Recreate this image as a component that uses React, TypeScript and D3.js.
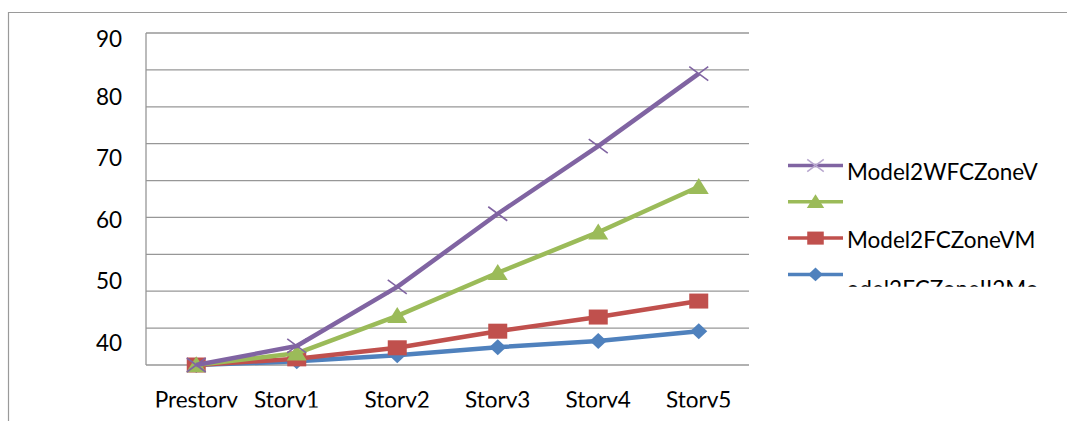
import React from "react";
import * as d3 from "d3";

// Storeys along the horizontal axis
const categories = ["Prestory", "Story1", "Story2", "Story3", "Story4", "Story5"];

// Series values per storey
const seriesBlue = [36, 36.6, 37.6, 38.9, 39.9, 41.5];
const seriesRed = [36, 37.0, 38.8, 41.5, 43.8, 46.4];
const seriesGreen = [36, 37.9, 44.0, 51.0, 57.6, 65.0];
const seriesPurple = [36, 39.1, 48.7, 60.6, 71.6, 83.4];

// Legend labels (top to bottom)
const legendNames = ["Model2WFCZoneV", "", "Model2FCZoneVM", "Model2FCZoneII2Model"];

// Axis ticks
const yTickLabels = [40, 50, 60, 70, 80, 90];
const yGridValues = d3.range(36, 91, 6);

const W = 1067;
const H = 421;
const FONT = "Lato, 'Liberation Sans', sans-serif";
const FS = 22.5;

type Marker = "diamond" | "square" | "triangle" | "cross";

const series: { values: number[]; color: string; legendColor: string; marker: Marker }[] = [
  { values: seriesBlue, color: "#4F81BD", legendColor: "#4F81BD", marker: "diamond" },
  { values: seriesRed, color: "#C0504D", legendColor: "#C0504D", marker: "square" },
  { values: seriesGreen, color: "#9BBB59", legendColor: "#9BBB59", marker: "triangle" },
  { values: seriesPurple, color: "#8064A2", legendColor: "#B9A8CF", marker: "cross" },
];

function markerShape(kind: Marker, cx: number, cy: number, color: string, s = 1, key?: string) {
  if (kind === "square") {
    const w = 19 * s, h = 15 * s;
    return <rect key={key} x={cx - w / 2} y={cy - h / 2} width={w} height={h} fill={color} />;
  }
  if (kind === "diamond") {
    const w = 8.5 * s, h = 8 * s;
    return (
      <path key={key} d={`M${cx},${cy - h}L${cx + w},${cy}L${cx},${cy + h}L${cx - w},${cy}Z`} fill={color} />
    );
  }
  if (kind === "triangle") {
    const w = 10 * s, h = 16 * s;
    return (
      <path key={key} d={`M${cx},${cy - h * 0.55}L${cx + w},${cy + h * 0.45}L${cx - w},${cy + h * 0.45}Z`} fill={color} />
    );
  }
  const w = 9.5 * s, h = 7 * s;
  return (
    <path
      key={key}
      d={`M${cx - w},${cy - h}L${cx + w},${cy + h}M${cx - w},${cy + h}L${cx + w},${cy - h}`}
      stroke={color}
      strokeWidth={1.6}
      fill="none"
    />
  );
}

export default function App() {
  const left = 146, right = 749, top = 33, bottom = 365;
  const x = d3.scaleBand<string>().domain(categories).range([left, right]);
  const y = d3.scaleLinear().domain([36, 90]).range([bottom, top]);
  const cx = (c: string) => (x(c) ?? 0) + x.bandwidth() / 2;

  const line = d3
    .line<number>()
    .x((_, i) => cx(categories[i]))
    .y((v) => y(v));

  const legendX0 = 788, legendX1 = 843, legendTop = 165.5, legendStep = 36.3;
  const legendTextDy = [14, 12, 10, 22.5];
  const legendOrder = [...series].reverse();

  return (
    <svg width={W} height={H} style={{ display: "block", position: "absolute", left: 0, top: 0 }}>
      <defs>
        <clipPath id="xlabClip">
          <rect x={0} y={0} width={W} height={407.5} />
        </clipPath>
        <clipPath id="legClip">
          <rect x={846} y={0} width={193} height={286.7} />
        </clipPath>
      </defs>
      <rect width={W} height={H} fill="#fff" />
      {/* chart frame */}
      <path d={`M8.5,${H}V12.5H${W}`} fill="none" stroke="#9a9a9a" strokeWidth={1.2} />

      {/* gridlines */}
      {yGridValues.map((v) => (
        <line key={v} x1={left} x2={right} y1={y(v)} y2={y(v)} stroke="#979797" strokeWidth={1.3} />
      ))}
      <line x1={left} x2={left} y1={top} y2={bottom} stroke="#979797" strokeWidth={1.3} />

      {/* y tick labels */}
      {yTickLabels.map((v) => (
        <text
          key={v}
          x={122}
          y={Math.max(y(v) + 2, 38)}
          textAnchor="end"
          dominantBaseline="central"
          fontFamily={FONT}
          fontSize={FS}
          fill="#000"
        >
          {v}
        </text>
      ))}

      {/* x tick labels */}
      <g clipPath="url(#xlabClip)">
        {categories.map((c, i) => (
          <text
            key={c}
            x={cx(c) + (i === 1 ? -10 : 0)}
            y={408}
            textAnchor="middle"
            fontFamily={FONT}
            fontSize={FS}
            fill="#000"
          >
            {c}
          </text>
        ))}
      </g>

      {/* series lines and markers */}
      {series.map((s, si) => (
        <g key={si}>
          <path d={line(s.values) ?? ""} fill="none" stroke={s.color} strokeWidth={4.5} strokeLinejoin="round" />
          {s.values.map((v, i) => markerShape(s.marker, cx(categories[i]), y(v), s.color, 1, `${si}-${i}`))}
        </g>
      ))}

      {/* legend */}
      {legendOrder.map((s, i) => {
        const ly = legendTop + i * legendStep;
        return (
          <g key={i}>
            <line x1={legendX0} x2={legendX1} y1={ly} y2={ly} stroke={s.color} strokeWidth={3.5} />
            {markerShape(s.marker, (legendX0 + legendX1) / 2, ly, s.legendColor, 0.87)}
          </g>
        );
      })}
      <g clipPath="url(#legClip)">
        {legendNames.map((name, i) => {
          const ly = legendTop + i * legendStep;
          const shifted = i === 3;
          return (
            <text
              key={i}
              x={shifted ? 826 : 847}
              y={ly + legendTextDy[i]}
              fontFamily={FONT}
              fontSize={FS}
              fill="#000"
            >
              {name}
            </text>
          );
        })}
      </g>
    </svg>
  );
}
